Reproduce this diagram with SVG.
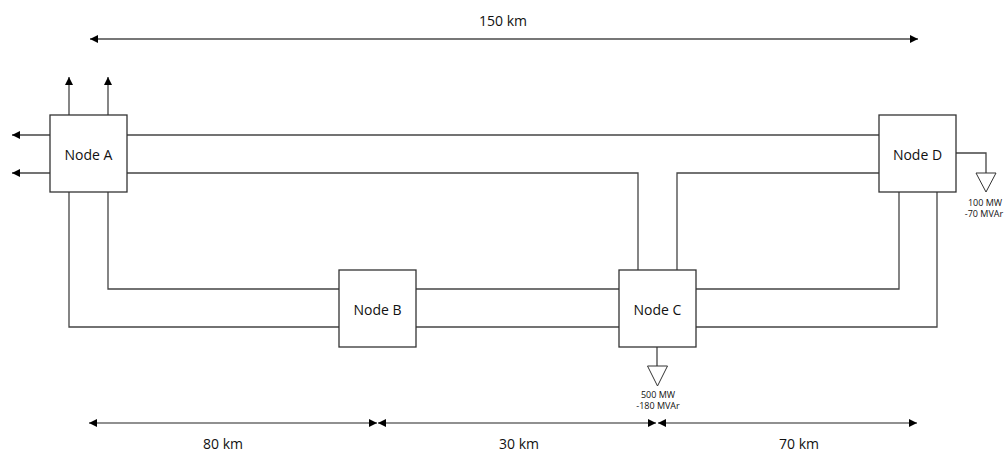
<svg xmlns="http://www.w3.org/2000/svg" width="1006" height="455" viewBox="0 0 1006 455">
<style>
.box{fill:#fff;stroke:#333;stroke-width:1.3}
.ln{fill:none;stroke:#444;stroke-width:1.3}
.dim{fill:none;stroke:#222;stroke-width:1.2}
.lbl{font-family:"Open Sans","Noto Sans",sans-serif;font-size:14px;fill:#111;text-anchor:middle;dominant-baseline:central}
.sm{font-family:"Open Sans","Noto Sans",sans-serif;font-size:9px;fill:#111;text-anchor:middle;dominant-baseline:central}
.load{fill:#fff;stroke:#333;stroke-width:1}
</style>
<defs>
<marker id="ah" viewBox="0 0 10 10" refX="10" refY="5" markerWidth="8" markerHeight="8" markerUnits="userSpaceOnUse" orient="auto-start-reverse">
<path d="M0,0 L10,5 L0,10 z" fill="#000"/>
</marker>
</defs>
<g id="connectors">
<path class="ln" d="M127,135 H879"/>
<path class="ln" d="M127,173 H638 V270"/>
<path class="ln" d="M879,173 H677 V270"/>
<path class="ln" d="M108,192 V289 H339"/>
<path class="ln" d="M69,192 V327 H339"/>
<path class="ln" d="M416,289 H619"/>
<path class="ln" d="M416,327 H619"/>
<path class="ln" d="M696,289 H899 V192"/>
<path class="ln" d="M696,327 H937 V192"/>
<path class="ln" d="M69,115 V77" marker-end="url(#ah)"/>
<path class="ln" d="M108,115 V77" marker-end="url(#ah)"/>
<path class="ln" d="M50,135 H12" marker-end="url(#ah)"/>
<path class="ln" d="M50,173 H12" marker-end="url(#ah)"/>
<path class="ln" d="M956,153 H986 V173"/>
<path class="ln" d="M657,347 V366"/>
</g>
<g id="nodeA"><rect class="box" x="50" y="115" width="77" height="77"/><text class="lbl" x="88.5" y="154">Node A</text></g>
<g id="nodeB"><rect class="box" x="339" y="270" width="77" height="77"/><text class="lbl" x="377.5" y="309">Node B</text></g>
<g id="nodeC"><rect class="box" x="619" y="270" width="77" height="77"/><text class="lbl" x="657.5" y="309">Node C</text></g>
<g id="nodeD"><rect class="box" x="879" y="115" width="77" height="77"/><text class="lbl" x="917.5" y="154">Node D</text></g>
<g id="loadD"><path class="load" d="M976,173 H996 L986,192 z"/><text class="sm" x="985" y="202">100 MW</text><text class="sm" x="984" y="213">-70 MVAr</text></g>
<g id="loadC"><path class="load" d="M647.5,366 H667.5 L657.5,386 z"/><text class="sm" x="658" y="394.5">500 MW</text><text class="sm" x="658" y="405.5">-180 MVAr</text></g>
<g id="dimensions">
<path d="M90,39 H918" fill="none" stroke="#777" stroke-width="1.8" marker-start="url(#ah)" marker-end="url(#ah)"/>
<text class="lbl" x="503" y="20">150 km</text>
<path class="dim" d="M89,423 H377" marker-start="url(#ah)" marker-end="url(#ah)"/>
<path class="dim" d="M378,423 H656" marker-start="url(#ah)" marker-end="url(#ah)"/>
<path class="dim" d="M658,423 H917" marker-start="url(#ah)" marker-end="url(#ah)"/>
<text class="lbl" x="223" y="443">80 km</text>
<text class="lbl" x="519" y="443">30 km</text>
<text class="lbl" x="799" y="443">70 km</text>
</g>
</svg>
